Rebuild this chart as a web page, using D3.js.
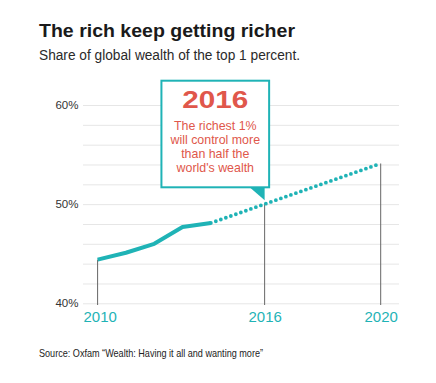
<!DOCTYPE html>
<html>
<head>
<meta charset="utf-8">
<script src="https://cdn.jsdelivr.net/npm/d3@7"></script>
<style>
  html, body { margin: 0; padding: 0; background: #fff; }
  svg { display: block; }
  text { font-family: "Liberation Sans", Arial, sans-serif; }
</style>
</head>
<body>
<svg id="chart" width="436" height="383"></svg>
<script>
// ---- data ----
const actualYears = [2010, 2011, 2012, 2013, 2014];
const actualShare = [44.4, 45.1, 46.0, 47.7, 48.1];
const projectedYears = [2014, 2020];
const projectedShare = [48.1, 54.1];
const yTickValues = [40, 50, 60];
const yGridValues = [40, 42, 44, 46, 48, 50, 52, 54, 56, 58, 60];
const xTickLabels = ["2010", "2016", "2020"];
const calloutTitle = "2016";
const calloutLines = ["The richest 1%", "will control more", "than half the", "world's wealth"];
const titleText = "The rich keep getting richer";
const subtitleText = "Share of global wealth of the top 1 percent.";
const sourceText = "Source: Oxfam \u201CWealth: Having it all and wanting more\u201D";
const threshold = 50;

const teal = "#1fb3b6";
const red = "#e0574b";

const svg = d3.select("#chart");

// scales
const gridLeft = 83, gridRight = 399;
const x = d3.scaleLinear().domain([2010, 2020]).range([97.6, 380.7]);
const y = d3.scaleLinear().domain([40, 60]).range([303.3, 105]);

// titles
svg.append("text").attr("x", 39).attr("y", 36.7)
  .attr("font-size", 19).attr("font-weight", "bold").attr("fill", "#1a1a1a")
  .attr("textLength", 256).attr("lengthAdjust", "spacingAndGlyphs")
  .text(titleText);
svg.append("text").attr("x", 39).attr("y", 60)
  .attr("font-size", 14).attr("fill", "#2a2a2a")
  .attr("textLength", 261).attr("lengthAdjust", "spacingAndGlyphs")
  .text(subtitleText);
svg.append("text").attr("x", 39).attr("y", 357.3)
  .attr("font-size", 10.5).attr("fill", "#222")
  .attr("textLength", 224).attr("lengthAdjust", "spacingAndGlyphs")
  .text(sourceText);

// gridlines
const grid = svg.append("g").attr("transform", `translate(${gridLeft},0)`)
  .call(d3.axisLeft(y).tickValues(yGridValues).tickSize(-(gridRight - gridLeft)).tickFormat(""));
grid.select(".domain").remove();
grid.selectAll("line").attr("stroke", "#e6e6e6").attr("stroke-width", 1);

// y labels
const yAx = svg.append("g").attr("transform", `translate(78.5,0)`)
  .call(d3.axisLeft(y).tickValues(yTickValues).tickSize(0).tickPadding(0).tickFormat(d => d + "%"));
yAx.select(".domain").remove();
yAx.selectAll("text").attr("font-size", 11.5).attr("fill", "#333")
  .attr("font-family", "'Liberation Sans', Arial, sans-serif");

// crossing year of the projection with 50%
const slope = (projectedShare[1] - projectedShare[0]) / (projectedYears[1] - projectedYears[0]);
const crossYear = projectedYears[0] + (threshold - projectedShare[0]) / slope;
const markerYears = [actualYears[0], crossYear, projectedYears[1]];
const markerValues = [actualShare[0], threshold, projectedShare[1]];

// vertical marker lines
svg.append("g").selectAll("line").data(markerYears).join("line")
  .attr("x1", d => x(d)).attr("x2", d => x(d))
  .attr("y1", (d, i) => y(markerValues[i])).attr("y2", 305)
  .attr("stroke", "#666").attr("stroke-width", 1);

// x labels
const xAx = svg.append("g").attr("transform", `translate(0,305)`)
  .call(d3.axisBottom(x).tickValues(markerYears).tickSize(0).tickPadding(0)
    .tickFormat((d, i) => xTickLabels[i]));
xAx.select(".domain").remove();
xAx.selectAll("text").attr("font-size", 15).attr("fill", teal).attr("dy", null).attr("y", 16.7)
  .attr("font-family", "'Liberation Sans', Arial, sans-serif");
xAx.selectAll(".tick").filter((d, i) => i === 0).select("text")
  .attr("text-anchor", "start").attr("x", gridLeft - x(markerYears[0]));

// lines
const line = d3.line().x(d => x(d[0])).y(d => y(d[1]));
svg.append("path").datum(projectedYears.map((d, i) => [d, projectedShare[i]]))
  .attr("d", line).attr("fill", "none").attr("stroke", teal)
  .attr("stroke-width", 3.8).attr("stroke-linecap", "round").attr("stroke-dasharray", "0 5.3");
svg.append("path").datum(actualYears.map((d, i) => [d, actualShare[i]]))
  .attr("d", line).attr("fill", "none").attr("stroke", teal)
  .attr("stroke-width", 4).attr("stroke-linejoin", "round");

// callout
const mx = x(crossYear);
const boxRight = mx + 4.5, boxLeft = boxRight - 107.7, boxTop = 80.7, boxBottom = 187.3;
const cx = (boxLeft + boxRight) / 2;
const call = svg.append("g");
call.append("rect").attr("x", boxLeft).attr("y", boxTop)
  .attr("width", boxRight - boxLeft).attr("height", boxBottom - boxTop)
  .attr("fill", "#fff").attr("stroke", teal).attr("stroke-width", 2);
call.append("path")
  .attr("d", `M${mx - 15},${boxBottom} L${mx},${boxBottom} L${mx},${boxBottom + 13} Z`)
  .attr("fill", teal);
call.append("text").attr("x", cx).attr("y", 108.3).attr("text-anchor", "middle")
  .attr("font-size", 24.5).attr("font-weight", "bold").attr("fill", red)
  .attr("textLength", 66).attr("lengthAdjust", "spacingAndGlyphs")
  .text(calloutTitle);
call.selectAll("text.body").data(calloutLines).join("text").attr("class", "body")
  .attr("x", cx).attr("y", (d, i) => 130 + i * 13.9).attr("text-anchor", "middle")
  .attr("font-size", 12.4).attr("fill", red).text(d => d);
</script>
</body>
</html>
